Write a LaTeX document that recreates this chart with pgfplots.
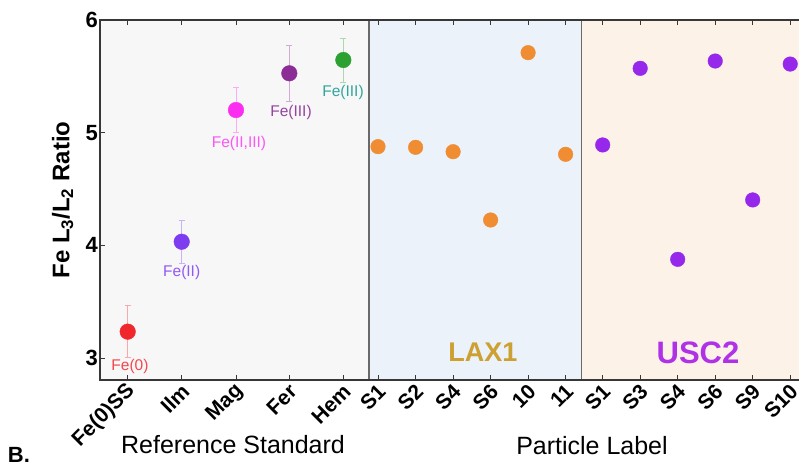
\documentclass[border=0pt]{standalone}
\usepackage{fontspec}
\setmainfont{Liberation Sans}
\usepackage{pgfplots}
\pgfplotsset{compat=1.18}
\definecolor{axisgray}{RGB}{55,55,55}
\definecolor{sepgray}{RGB}{105,105,105}
\definecolor{bgref}{RGB}{247,247,248}
\definecolor{bglax}{RGB}{235,242,250}
\definecolor{bgusc}{RGB}{252,242,232}
\definecolor{cfe0}{RGB}{240,40,45}
\definecolor{cilm}{RGB}{125,60,240}
\definecolor{cmag}{RGB}{250,45,240}
\definecolor{cfer}{RGB}{140,45,150}
\definecolor{chem}{RGB}{45,160,50}
\definecolor{lhem}{RGB}{50,165,155}
\definecolor{corange}{RGB}{240,140,50}
\definecolor{cusc}{RGB}{150,40,235}
\definecolor{tlax}{RGB}{205,160,50}
\definecolor{tusc}{RGB}{175,50,230}
\begin{document}
\begin{tikzpicture}[x=1pt,y=1pt]
\useasboundingbox (0,0) rectangle (799,468);
\clip (0,0) rectangle (799,468);
\begin{axis}[
  at={(100pt,88pt)}, anchor=south west,
  scale only axis, width=706pt, height=360pt,
  xmin=100, xmax=806, ymin=2.805, ymax=6,
  axis on top,
  axis line style={draw=axisgray, line width=1.6pt},
  tick align=inside, major tick length=5pt,
  tick style={draw=axisgray, line width=0.9pt},
  xtick={127.7,181.7,236,289.3,343.3,378,415.6,453.1,490.6,528.1,565.6,602.7,640.2,677.7,715.2,752.7,790.2},
  xticklabels={Fe(0)SS,Ilm,Mag,Fer,Hem,S1,S2,S4,S6,10,11,S1,S3,S4,S6,S9,S10},
  ytick={3,4,5,6}, yticklabels={3,4,5,6}, ytick pos=left,
  xticklabel style={font=\fontsize{21}{21}\selectfont\bfseries, xshift=4pt, yshift=-8pt, rotate=45, anchor=east, inner sep=0pt},
  yticklabel style={font=\fontsize{22}{22}\selectfont\bfseries, inner sep=2pt},
  ylabel={Fe L\textsubscript{3}/L\textsubscript{2} Ratio},
  ylabel style={font=\fontsize{24}{24}\selectfont\bfseries, at={(axis description cs:-0.053,0.5)}, anchor=center},
  clip=false,
]
\fill[bgref] (axis cs:100,2.805) rectangle (axis cs:369,6);
\fill[bglax] (axis cs:369,2.805) rectangle (axis cs:581.7,6);
\fill[bgusc] (axis cs:581.7,2.805) rectangle (axis cs:806,6);
\draw[sepgray, line width=1.5pt] (axis cs:369,2.805) -- (axis cs:369,6);
\draw[sepgray, line width=1.5pt] (axis cs:581.7,2.805) -- (axis cs:581.7,6);

\addplot[only marks, mark=*, mark size=7.8pt, color=cfe0,
  error bars/.cd, y dir=both, y explicit, error mark options={rotate=90, mark size=3pt, cfe0!40, line width=0.8pt},
  error bar style={cfe0!40, line width=0.8pt}]
  coordinates {(127.7,3.234) +- (0,0.23)};
\addplot[only marks, mark=*, mark size=7.8pt, color=cilm,
  error bars/.cd, y dir=both, y explicit, error mark options={rotate=90, mark size=3pt, cilm!40, line width=0.8pt},
  error bar style={cilm!40, line width=0.8pt}]
  coordinates {(181.7,4.032) +- (0,0.192)};
\addplot[only marks, mark=*, mark size=7.8pt, color=cmag,
  error bars/.cd, y dir=both, y explicit, error mark options={rotate=90, mark size=3pt, cmag!40, line width=0.8pt},
  error bar style={cmag!40, line width=0.8pt}]
  coordinates {(236,5.201) +- (0,0.197)};
\addplot[only marks, mark=*, mark size=7.8pt, color=cfer,
  error bars/.cd, y dir=both, y explicit, error mark options={rotate=90, mark size=3pt, cfer!40, line width=0.8pt},
  error bar style={cfer!40, line width=0.8pt}]
  coordinates {(289.3,5.527) +- (0,0.251)};
\addplot[only marks, mark=*, mark size=7.8pt, color=chem,
  error bars/.cd, y dir=both, y explicit, error mark options={rotate=90, mark size=3pt, chem!40, line width=0.8pt},
  error bar style={chem!40, line width=0.8pt}]
  coordinates {(343.3,5.645) +- (0,0.195)};

\addplot[only marks, mark=*, mark size=7.3pt, color=corange]
  coordinates {(378,4.876) (415.6,4.870) (453.1,4.831) (490.6,4.225) (528.1,5.710) (565.6,4.808)};
\addplot[only marks, mark=*, mark size=7.3pt, color=cusc]
  coordinates {(602.7,4.891) (640.2,5.571) (677.7,3.876) (715.2,5.636) (752.7,4.403) (790.2,5.609)};

\node[text=cfe0!85, font=\fontsize{15.5}{16}\selectfont] at (axis cs:130,2.929) {Fe(0)};
\node[text=cilm!85, font=\fontsize{15.5}{16}\selectfont] at (axis cs:181.7,3.755) {Fe(II)};
\node[text=cmag!80, font=\fontsize{15.5}{16}\selectfont] at (axis cs:239,4.908) {Fe(II,III)};
\node[text=cfer!90, font=\fontsize{15.5}{16}\selectfont] at (axis cs:291,5.177) {Fe(III)};
\node[text=lhem, font=\fontsize{15.5}{16}\selectfont] at (axis cs:343,5.355) {Fe(III)};
\node[text=tlax, font=\fontsize{27}{27}\selectfont\bfseries] at (axis cs:483,3.056) {LAX1};
\node[text=tusc, font=\fontsize{31}{31}\selectfont\bfseries] at (axis cs:698,3.045) {USC2};
\end{axis}
\node[font=\fontsize{25}{25}\selectfont] at (233,23) {Reference Standard};
\node[font=\fontsize{25}{25}\selectfont] at (592,22) {Particle Label};
\node[font=\fontsize{22}{22}\selectfont\bfseries] at (19,13) {B.};
\end{tikzpicture}
\end{document}
